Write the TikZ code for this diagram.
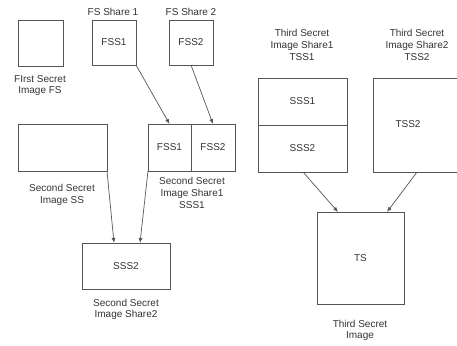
\documentclass[tikz,border=0pt]{standalone}
\usepackage{fontspec}
\setmainfont{Liberation Sans}
\usetikzlibrary{arrows.meta}
\definecolor{linegray}{HTML}{555555}
\definecolor{textgray}{HTML}{333333}
\begin{document}
\begin{tikzpicture}[x=1pt,y=-1pt,
  every node/.style={font=\fontsize{10}{11.6}\selectfont, text=textgray},
  box/.style={draw=linegray, line width=0.8pt, inner sep=0pt, outer sep=0pt, anchor=center},
  lbl/.style={align=center, inner sep=0pt},
  arr/.style={draw=linegray, line width=0.7pt, -{Latex[length=5pt,width=4pt]}}
]
\useasboundingbox (0,0) rectangle (457,345);
% first secret
\node[box, minimum width=45pt, minimum height=46pt] (fs) at (40.5,43) {};
\node[lbl] (fslbl) at (40,85.5) {FIrst Secret\\Image FS};
\node[box, minimum width=44pt, minimum height=45pt] (fss1) at (114,42.5) {FSS1};
\node[lbl] (fss1lbl) at (113,12) {FS Share 1};
\node[box, minimum width=44pt, minimum height=45pt] (fss2) at (191,42.5) {FSS2};
\node[lbl] (fss2lbl) at (191,12) {FS Share 2};
% second secret
\node[box, minimum width=89pt, minimum height=47pt] (ss) at (62.5,147.5) {};
\node[lbl] (sslbl) at (62,195) {Second Secret\\Image SS};
\node[box, minimum width=43pt, minimum height=47pt] (sssa) at (169.5,147.5) {FSS1};
\node[box, minimum width=44pt, minimum height=47pt] (sssb) at (213,147.5) {FSS2};
\node[lbl] (sss1lbl) at (192,193) {Second Secret\\Image Share1\\SSS1};
\node[box, minimum width=88pt, minimum height=46pt] (sss2) at (126,266) {SSS2};
\node[lbl] (sss2lbl) at (126,309.5) {Second Secret\\Image Share2};
% third secret
\node[box, minimum width=89pt, minimum height=47pt] (tssa) at (302.5,101.5) {SSS1};
\node[box, minimum width=89pt, minimum height=47pt] (tssb) at (302.5,148.5) {SSS2};
\node[lbl] (tss1lbl) at (302,45) {Third Secret\\Image Share1\\TSS1};
\node[box, minimum width=100pt, minimum height=94pt] (tss2) at (423,125) {};
\node[lbl] (tss2txt) at (408,124) {TSS2};
\node[lbl] (tss2lbl) at (417,45) {Third Secret\\Image Share2\\TSS2};
\node[box, minimum width=87pt, minimum height=92pt] (ts) at (360.5,258) {TS};
\node[lbl] (tslbl) at (360,330.5) {Third Secret\\Image};
% arrows
\draw[arr] (fss1.south east) -- (sssa.north);
\draw[arr] (fss2.south) -- (sssb.north);
\draw[arr] (ss.south east) -- ([xshift=-12pt]sss2.north);
\draw[arr] (sssa.south west) -- ([xshift=14pt]sss2.north);
\draw[arr] ([xshift=0.5pt]tssb.south) -- ([xshift=-22.5pt]ts.north);
\draw[arr] ([xshift=-6pt]tss2.south) -- ([xshift=26.5pt]ts.north);
\end{tikzpicture}
\end{document}
